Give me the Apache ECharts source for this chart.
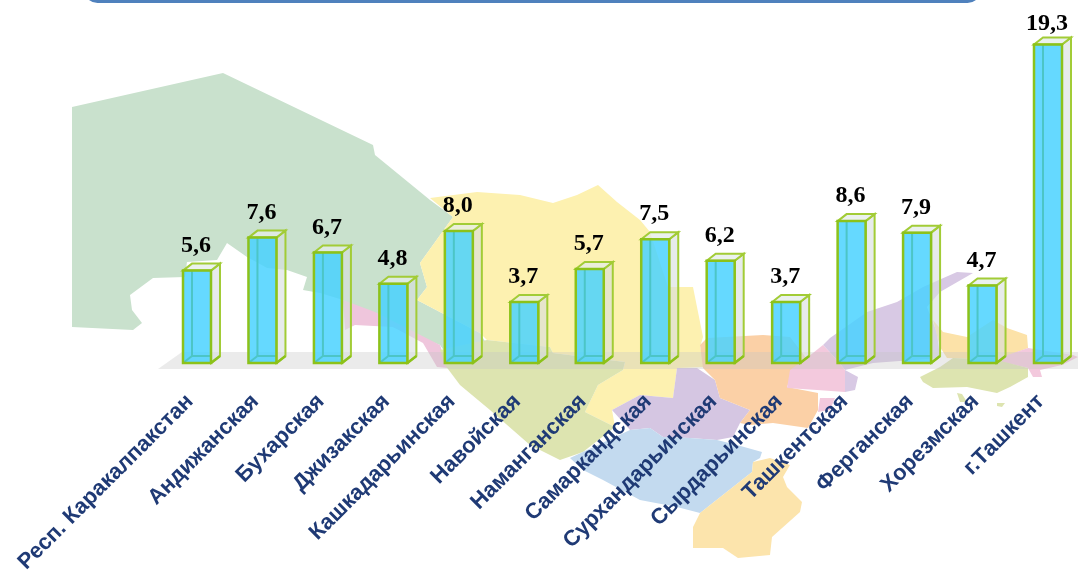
<!DOCTYPE html>
<html><head><meta charset="utf-8">
<style>html,body{margin:0;padding:0;background:#fff}#main{width:1078px;height:573px;filter:blur(0.6px)}</style>
<script src="https://cdn.jsdelivr.net/npm/echarts@6/dist/echarts.min.js"></script>
</head><body><div id="main"></div>
<script>
const categories = ['Респ. Каракалпакстан','Андижанская','Бухарская','Джизакская','Кашкадарьинская','Навойская','Наманганская','Самаркандская','Сурхандарьинская','Сырдарьинская','Ташкентская','Ферганская','Хорезмская','г.Ташкент'];
const values = [5.6,7.6,6.7,4.8,8.0,3.7,5.7,7.5,6.2,3.7,8.6,7.9,4.7,19.3];

// Decorative backdrop: the map of regions behind the bars (page pixels)
const mapShapes = [
 ['#c9e1cd',[[72,107],[223,73],[373,145],[375,155],[430,200],[453,217],[420,263],[427,287],[417,300],[480,333],[487,345],[480,356],[445,352],[440,345],[393,327],[343,300],[320,293],[303,290],[307,277],[287,270],[267,268],[247,257],[227,243],[217,260],[187,262],[185,277],[153,278],[130,295],[132,310],[142,323],[133,330],[72,327]]],
 ['#efc6dc',[[343,300],[375,312],[440,345],[448,368],[437,367],[423,343],[393,327],[355,325],[345,330]]],
 ['#fdf1b0',[[430,198],[477,192],[520,195],[553,203],[577,195],[598,185],[617,202],[640,220],[650,232],[668,287],[693,287],[703,337],[700,347],[705,367],[677,368],[673,398],[640,395],[612,410],[615,427],[585,412],[598,385],[623,370],[625,362],[553,353],[550,347],[487,340],[480,333],[417,300],[427,287],[420,263],[453,217]]],
 ['#dde4b0',[[445,365],[440,350],[487,340],[550,347],[553,353],[625,362],[623,370],[598,385],[585,412],[615,427],[583,452],[560,460],[530,445],[490,410],[460,385]]],
 ['#d5c6e2',[[677,368],[697,368],[715,380],[720,398],[750,410],[740,423],[733,437],[717,440],[690,438],[663,437],[650,428],[630,430],[612,410],[640,395],[673,398]]],
 ['#fbd0a6',[[700,345],[707,338],[763,335],[790,337],[800,350],[810,363],[793,372],[787,387],[818,393],[818,410],[808,428],[773,423],[750,425],[740,423],[750,410],[720,398],[715,380],[703,368]]],
 ['#c3daef',[[570,458],[630,430],[650,428],[663,437],[690,438],[717,440],[737,445],[762,452],[760,458],[753,462],[752,472],[733,487],[700,513],[677,507],[640,500],[603,480],[583,470]]],
 ['#fce4ac',[[753,462],[770,458],[790,465],[783,477],[787,487],[802,502],[800,512],[772,537],[770,555],[738,558],[723,548],[693,548],[693,527],[700,513],[733,487],[752,472]]],
 ['#d8c9e4',[[823,345],[830,338],[867,312],[897,302],[923,287],[957,272],[973,273],[940,292],[927,307],[937,333],[940,358],[873,363],[845,370],[858,377],[855,390],[845,392],[845,370],[837,360]]],
 ['#f3c9dd',[[823,345],[813,353],[790,370],[787,388],[817,390],[845,392],[845,370],[837,360]]],
 ['#f3c9dd',[[820,398],[835,398],[830,410],[818,412]]],
 ['#fce2a8',[[933,320],[943,332],[967,337],[993,320],[1007,328],[1027,335],[1028,348],[997,360],[947,358],[940,347]]],
 ['#f3c9dd',[[1028,348],[1073,355],[1078,357],[1062,365],[1040,370],[1042,377],[1033,377],[1028,368],[993,360]]],
 ['#dde4b0',[[920,377],[940,367],[953,358],[997,360],[1028,368],[1028,377],[1010,387],[997,393],[967,387],[933,388],[923,382]]],
 ['#dde4b0',[[957,393],[962,394],[967,402],[960,402]]],
 ['#dde4b0',[[997,403],[1005,403],[1002,407],[997,406]]],
 ['rgba(195,195,195,0.34)',[[158,369],[182,352],[1078,352],[1078,369]]]
];

const BAR_WIDTH = 28, DX = 9, DY = 7;
const EDGE = '#8cc21a', INNER = '#4cc5c6';

function renderBar(params, api) {
  const i = api.value(0), v = api.value(1);
  const top = api.coord([i, v]), base = api.coord([i, 0]);
  const w = BAR_WIDTH;
  const l = top[0] - w / 2, r = l + w, t = top[1], b = base[1];
  const poly = (pts, style) => ({type:'polygon', shape:{points:pts}, style});
  const line = (x1,y1,x2,y2,stroke,lw) => ({type:'line', shape:{x1,y1,x2,y2}, style:{stroke, lineWidth:lw}});
  const side = {stroke:'#a2cc36', lineWidth:2};
  return {type:'group', children:[
    poly([[r,t],[r+DX,t-DY],[r+DX,b-DY],[r,b]], {fill:'rgba(215,222,222,0.6)', ...side}),
    poly([[l,t],[l+DX,t-DY],[r+DX,t-DY],[r,t]], {fill:'rgba(228,236,232,0.75)', ...side}),
    {type:'rect', shape:{x:l,y:t,width:w,height:b-t}, style:{fill:'rgba(72,210,255,0.84)'}},
    line(l+DX,t,l+DX,b-DY,INNER,2),
    line(l+DX,b-DY,r,b-DY,INNER,2),
    line(l,b,l+DX,b-DY,INNER,2),
    {type:'rect', shape:{x:l,y:t,width:w,height:b-t}, style:{fill:'none', stroke:EDGE, lineWidth:2.5}},
    line(r,b,r+DX,b-DY,EDGE,2.5),
    {type:'text', x:(l+r)/2 - 1, y:Math.max(t-25,24), style:{
      text:v.toFixed(1).replace('.',','), fill:'#000', font:'bold 24px "Liberation Serif"', align:'center', verticalAlign:'middle'
    }}
  ]};
}

const chart = echarts.init(document.getElementById('main'));
chart.setOption({
  animation:false,
  backgroundColor:'#fff',
  graphic:{elements:[
    ...mapShapes.map(([fill,points])=>({type:'polygon', z:-2, silent:true, shape:{points}, style:{fill}})),
    {type:'rect', z:-1, silent:true, shape:{x:84,y:-24,width:897,height:27,r:14}, style:{fill:'#4f81bd'}}
  ]},
  grid:{left:197, width:851, top:33, height:330, outerBoundsMode:'none'},
  xAxis:{type:'category', data:categories, boundaryGap:false, axisLine:{show:false}, axisTick:{show:false}, splitLine:{show:false},
    axisLabel:{interval:0, rotate:45, margin:28, padding:[0,10,0,0], color:'#1f3a75', fontFamily:'Liberation Sans', fontWeight:'bold', fontSize:22, hideOverlap:false, showMinLabel:true, showMaxLabel:true}},
  yAxis:{type:'value', min:0, max:20, show:false},
  series:[{type:'custom', clip:false, renderItem:renderBar, data:values.map((v,i)=>[i,v]), encode:{x:0,y:1}}]
});
</script></body></html>
